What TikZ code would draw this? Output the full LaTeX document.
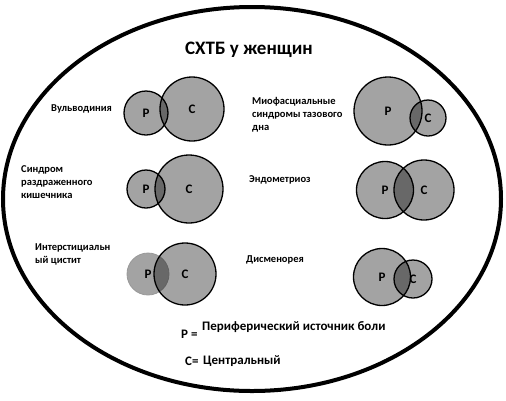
\documentclass[tikz,border=0pt]{standalone}
\usepackage{fontspec}
\setmainfont{Carlito}
\usepackage{tikz}
\usetikzlibrary{shapes, positioning}
\tikzset{venn/.style={circle, draw, line width=1.3pt, fill=black, fill opacity=0.36, text opacity=1, inner sep=0pt, font=\bfseries\fontsize{13}{14}\selectfont}}
\tikzset{lbl/.style={anchor=west, align=left, inner sep=0pt, font=\bfseries\fontsize{10.5}{13}\selectfont}}
\tikzset{legend/.style={anchor=west, inner sep=0pt, font=\bfseries\fontsize{13}{15}\selectfont}}

\begin{document}
\begin{tikzpicture}[x=1pt, y=-1pt]
\useasboundingbox (0,0) rectangle (506,400);
\draw[line width=4pt] (252,199) ellipse [x radius=249, y radius=192];
\node[font=\bfseries\fontsize{19}{22}\selectfont] (title) at (249,50) {СХТБ у женщин};

\node[lbl] (vul) at (51,109) {Вульводиния};
\node[venn, minimum size=44] (vulP) at (146,113) {P};
\node[venn, minimum size=64] (vulC) at (192,109) {C};

\node[lbl] (myo) at (252,115) {Миофасциальные\\синдромы тазового\\дна};
\node[venn, minimum size=68] (myoP) at (388,111) {P};
\node[venn, minimum size=36] (myoC) at (428,118) {C};

\node[lbl] (ibs) at (21,182) {Синдром\\раздраженного\\кишечника};
\node[venn, minimum size=38] (ibsP) at (146,189) {P};
\node[venn, minimum size=68] (ibsC) at (189,189) {C};

\node[lbl] (endo) at (249,180) {Эндометриоз};
\node[venn, minimum size=57] (endoP) at (385,190) {P};
\node[venn, minimum size=60] (endoC) at (424,190) {C};

\node[lbl] (cyst) at (35,254) {Интерстициальн\\ый цистит};
\node[venn, minimum size=42, draw=gray!80, line width=0.8pt] (cystP) at (148,274) {P};
\node[venn, minimum size=62] (cystC) at (185,274) {C};

\node[lbl] (dys) at (246,260) {Дисменорея};
\node[venn, minimum size=57] (dysP) at (382,277) {P};
\node[venn, minimum size=38] (dysC) at (413,279) {C};

\node[legend] (pkey) at (181,334) {P =};
\node[legend] (ptext) at (202,327) {Периферический источник боли};
\node[legend] (ckey) at (185,361) {C=};
\node[legend] (ctext) at (203,361) {Центральный};
\end{tikzpicture}
\end{document}
